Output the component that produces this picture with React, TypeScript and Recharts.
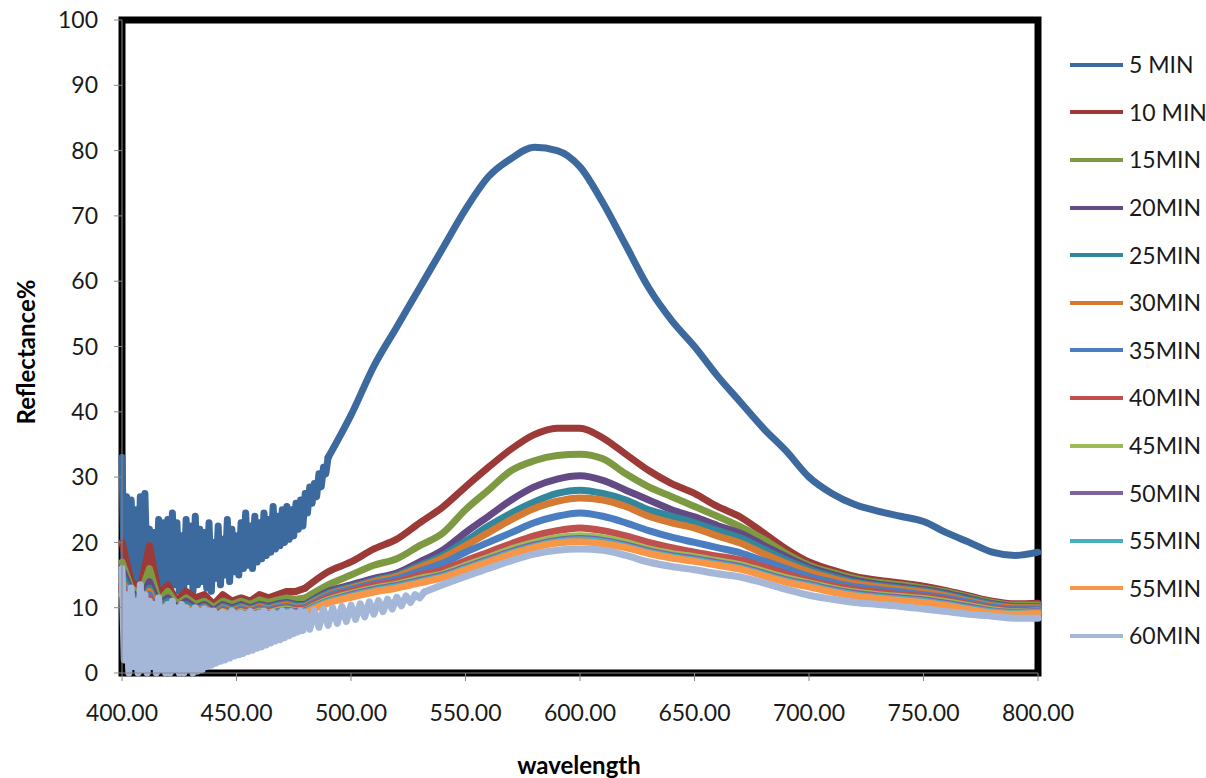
import React from 'react';
import { LineChart, Line, XAxis, YAxis, ReferenceArea, Legend } from 'recharts';

// wavelength grids
const wl1 = [400, 401, 402, 403, 404, 405, 406, 407, 408, 409, 410, 411, 412, 413, 414, 415, 416, 417, 418, 419,
  420, 421, 422, 423, 424, 425, 426, 427, 428, 429, 430, 431, 432, 433, 434, 435, 436, 437, 438, 439,
  440, 441, 442, 443, 444, 445, 446, 447, 448, 449, 450, 451, 452, 453, 454, 455, 456, 457, 458, 459,
  460, 461, 462, 463, 464, 465, 466, 467, 468, 469, 470, 471, 472, 473, 474, 475, 476, 477, 478, 479,
  480, 481, 482, 483, 484, 485, 486, 487, 488, 489];
const wl4 = [400, 404, 408, 412, 416, 420, 424, 428, 432, 436, 440, 444, 448, 452, 456, 460, 464, 468, 472, 476];
const wlSmooth = [480, 490, 500, 510, 520, 530, 540, 550, 560, 570, 580, 590, 600, 610, 620, 630, 640, 650, 660,
  670, 680, 690, 700, 710, 720, 730, 740, 750, 760, 770, 780, 790, 800];
const wl60Mid = [480, 482, 484, 486, 488, 490, 492, 494, 496, 498, 500, 502, 504, 506, 508, 510, 512, 514, 516,
  518, 520, 522, 524, 526, 528, 530, 532];
const wl60Tail = [540, 550, 560, 570, 580, 590, 600, 610, 620, 630, 640, 650, 660, 670, 680, 690, 700, 710, 720,
  730, 740, 750, 760, 770, 780, 790, 800];

const xTicks = [400, 450, 500, 550, 600, 650, 700, 750, 800];
const yTicks = [0, 10, 20, 30, 40, 50, 60, 70, 80, 90, 100];

// 5 MIN (400-489 at 1 nm, then 490-800 at 10 nm)
const min5Noise = [33, 14, 27, 13, 26.5, 14, 25, 12.5, 27, 13, 27.5, 14.5, 22, 12, 21.5, 13, 23.5, 12.5, 23, 14,
  23.5, 13, 24.5, 13.5, 23, 12.5, 21, 13, 23.5, 14, 22.5, 12.5, 24, 13.5, 22, 14, 21.5, 13, 23, 12.5,
  20, 14.5, 22.5, 13.5, 20.5, 15, 23.5, 14, 22, 15.5, 21, 15, 23, 16, 24.5, 16.5, 22.5, 16, 24, 17,
  23, 17.5, 24.5, 18, 23.5, 18.5, 25.5, 19, 24, 19.5, 25, 20, 25.5, 20.5, 25, 21, 26, 22, 26.5, 22.5,
  27.5, 24.5, 28.5, 26, 29, 27, 30.5, 28.5, 31.5, 30.5];
const min5 = [33, 39.5, 47, 53, 59, 65, 71, 76, 78.8, 80.5, 80, 77.5, 72, 65.5, 59, 54, 50, 45.5, 41.5, 37.5,
  34, 30, 27.5, 25.8, 24.8, 24, 23.2, 21.5, 20, 18.5, 18, 18.5];

// 10 MIN
const min10Noise = [20, 14, 13, 19.5, 12, 13.5, 11, 12.5, 11.5, 12, 10.5, 12, 11, 11.5, 11, 12, 11.5, 12, 12.5, 12.5];
const min10 = [13, 15.5, 17, 19, 20.5, 23, 25.4, 28.5, 31.5, 34.3, 36.5, 37.5, 37.5, 36, 33.5, 31, 29, 27.5, 25.5,
  23.9, 21.5, 19, 17, 15.8, 14.8, 14.2, 13.8, 13.3, 12.6, 11.8, 11, 10.6, 10.7];

// 15MIN
const min15Noise = [17, 13, 12, 16, 11, 12.5, 10.5, 11.5, 10.5, 11, 10, 11, 10.5, 11, 10.5, 11.2, 10.8, 11.2, 11.5, 11.3];
const min15 = [11.5, 13.5, 15, 16.5, 17.5, 19.5, 21.4, 25, 28, 31, 32.5, 33.3, 33.5, 32.8, 30.5, 28.5, 27, 25.5, 24,
  22.4, 20.5, 18.3, 16.5, 15.4, 14.5, 13.9, 13.5, 13, 12.4, 11.6, 10.8, 10.4, 10.4];

// 20MIN
const min20Noise = [16, 12.5, 11, 14, 10.5, 11.5, 10, 11, 10, 10.5, 9.5, 10.5, 10, 10.5, 10, 10.5, 10.2, 10.6, 10.8, 10.5];
const min20 = [10.5, 12.5, 13.5, 14.5, 15.3, 17, 18.8, 21.5, 24, 26.5, 28.5, 29.7, 30.2, 29.5, 28, 26.5, 25, 23.9,
  22.6, 21.4, 19.6, 17.8, 16.2, 15.1, 14.2, 13.6, 13.2, 12.8, 12.2, 11.4, 10.6, 10.2, 10.2];

// 25MIN
const min25Noise = [15, 12, 10.5, 13, 10, 11, 9.5, 10.5, 9.7, 10.2, 9.2, 10.2, 9.7, 10.2, 9.8, 10.3, 10, 10.4, 10.6, 10.3];
const min25 = [10.3, 12.2, 13.2, 14.2, 15, 16.5, 18, 20.2, 22.5, 24.5, 26.2, 27.5, 28, 27.5, 26.5, 25, 24, 23, 21.8,
  20.7, 19, 17.3, 15.9, 14.8, 13.9, 13.4, 13, 12.6, 12, 11.2, 10.5, 10.1, 10.1];

// 30MIN
const min30Noise = [14, 11.5, 10, 12.5, 9.5, 10.5, 9, 10, 9.5, 10, 9, 10, 9.5, 10, 9.6, 10.1, 9.8, 10.2, 10.4, 10.1];
const min30 = [10.2, 12, 13, 14, 14.8, 16.2, 17.6, 19.5, 21.5, 23.5, 25.2, 26.3, 26.8, 26.5, 25.5, 24, 23, 22.2, 21,
  19.9, 18.3, 16.8, 15.5, 14.5, 13.7, 13.2, 12.8, 12.4, 11.8, 11, 10.3, 10, 10];

// 35MIN
const min35Noise = [13.5, 11, 9.5, 12, 9, 10, 8.8, 9.8, 9.2, 9.8, 8.8, 9.8, 9.3, 9.8, 9.4, 9.9, 9.6, 10, 10.2, 9.9];
const min35 = [10, 11.8, 12.8, 13.7, 14.4, 15.6, 16.8, 18.5, 20, 21.5, 23, 24, 24.5, 24, 23, 21.8, 20.8, 20, 19.2,
  18.4, 17.2, 16, 14.8, 13.9, 13.2, 12.8, 12.4, 12, 11.5, 10.8, 10.1, 9.8, 9.8];

// 40MIN
const min40Noise = [13, 10.5, 9.2, 11.5, 8.8, 9.8, 8.5, 9.5, 9, 9.5, 8.6, 9.6, 9.1, 9.6, 9.2, 9.7, 9.4, 9.8, 10, 9.7];
const min40 = [9.8, 11.5, 12.5, 13.4, 14, 15, 15.8, 17.2, 18.5, 19.8, 21, 21.8, 22.2, 21.8, 21, 20, 19.2, 18.5, 17.9,
  17.3, 16.3, 15.2, 14.2, 13.4, 12.8, 12.4, 12, 11.7, 11.2, 10.5, 9.9, 9.6, 9.6];

// 45MIN
const min45Noise = [12.5, 10, 9, 11, 8.5, 9.5, 8.3, 9.3, 8.8, 9.3, 8.4, 9.4, 8.9, 9.4, 9, 9.5, 9.2, 9.6, 9.8, 9.5];
const min45 = [9.6, 11.2, 12.2, 13, 13.6, 14.5, 15.2, 16.5, 17.7, 19, 20, 20.7, 21, 20.7, 20, 19, 18.3, 17.8, 17.2,
  16.6, 15.6, 14.6, 13.8, 13, 12.4, 12, 11.7, 11.4, 10.9, 10.3, 9.7, 9.4, 9.5];

// 50MIN
const min50Noise = [12.5, 9.8, 8.8, 11, 8.3, 9.3, 8.1, 9.1, 8.6, 9.1, 8.2, 9.2, 8.7, 9.2, 8.8, 9.3, 9, 9.4, 9.6, 9.4];
const min50 = [9.5, 11, 12, 12.8, 13.4, 14.2, 15, 16.2, 17.4, 18.6, 19.6, 20.3, 20.6, 20.3, 19.6, 18.7, 18, 17.5,
  16.9, 16.3, 15.3, 14.3, 13.6, 12.8, 12.2, 11.8, 11.5, 11.2, 10.7, 10.1, 9.5, 9.3, 9.4];

// 55MIN (cyan)
const min55aNoise = [12, 9.5, 8.5, 10.5, 8, 9, 7.8, 8.9, 8.4, 8.9, 8, 9, 8.5, 9, 8.6, 9.1, 8.8, 9.2, 9.4, 9.2];
const min55a = [9.4, 10.9, 11.8, 12.6, 13.2, 14, 14.8, 16, 17.2, 18.4, 19.4, 20.1, 20.4, 20.1, 19.4, 18.5, 17.8,
  17.3, 16.7, 16.1, 15.1, 14.1, 13.4, 12.6, 12, 11.6, 11.3, 11, 10.5, 9.9, 9.4, 9.2, 9.3];

// 55MIN (orange)
const min55bNoise = [12, 9, 8, 10, 7.2, 8.5, 7, 8.5, 7.5, 8.5, 7.5, 8.6, 8, 8.7, 8.2, 8.8, 8.5, 8.9, 9.1, 9];
const min55b = [9.2, 10.7, 11.6, 12.4, 13, 13.8, 14.6, 15.8, 17, 18.2, 19.2, 19.9, 20.1, 19.8, 19.2, 18.3, 17.6,
  17.1, 16.5, 15.9, 14.9, 13.9, 13.2, 12.4, 11.8, 11.4, 11.1, 10.8, 10.3, 9.7, 9.2, 9, 9.1];

// 60MIN (400-479 at 1 nm, 480-532 at 2 nm, then 10 nm)
const min60Noise = [16, 2, 12, 0, 13, 1, 11, 0, 13.5, 0.5, 12, 0, 11, 1, 10.5, 0, 11.5, 0.5, 10, 0,
  10.5, 0, 11, 0.5, 10, 0, 10.5, 0, 10, 0.5, 9.5, 0, 10, 0.3, 9.5, 0.5, 9.8, 1, 9.5, 1.2,
  9.5, 1.5, 9, 1.8, 9.3, 2, 9, 2.3, 9.5, 2.6, 9, 2.8, 9.2, 3, 9, 3.3, 9.4, 3.5, 9, 3.8,
  9.2, 4, 9.5, 4.3, 9, 4.6, 9.3, 4.9, 9, 5.1, 9.5, 5.4, 9.2, 5.7, 9.4, 6, 9.1, 6.3, 9.5, 6.5];
const min60Mid = [9.3, 6.7, 9.6, 7, 9.8, 7.3, 10, 7.6, 10.2, 7.9, 10.4, 8.2, 10.6, 8.6, 10.9, 9, 11.1, 9.4, 11.3,
  9.8, 11.6, 10.3, 11.8, 10.8, 12, 11.5, 12.4];
const min60 = [13.5, 14.8, 16, 17.2, 18.2, 18.8, 19, 18.8, 18, 17, 16.3, 15.8, 15.2, 14.7, 13.8, 12.8, 11.9, 11.3,
  10.8, 10.5, 10.2, 9.8, 9.4, 9, 8.7, 8.4, 8.4];

const seriesNames = ['5 MIN', '10 MIN', '15MIN', '20MIN', '25MIN', '30MIN', '35MIN', '40MIN', '45MIN', '50MIN',
  '55MIN', '55MIN', '60MIN'];
const seriesColors = ['#3D6A9E', '#9C3A37', '#7D9A43', '#634A84', '#33879D', '#D47A32', '#4A7EC0', '#C0504D',
  '#9BBB59', '#7E62A3', '#4BACC6', '#F79646', '#A5B7D8'];

type Pt = { x: number; y: number };
const zip = (xs: number[], ys: number[]): Pt[] => ys.map((y, i) => ({ x: xs[i], y }));

// each series: noisy part (drawn straight) + smooth part (drawn as a curve); they share the joining point
const build = (noise: Pt[], smooth: Pt[]) => ({ noise: [...noise, smooth[0]], smooth });

const middle = [
  [min10Noise, min10], [min15Noise, min15], [min20Noise, min20], [min25Noise, min25], [min30Noise, min30],
  [min35Noise, min35], [min40Noise, min40], [min45Noise, min45], [min50Noise, min50], [min55aNoise, min55a],
  [min55bNoise, min55b],
];

const seriesParts = [
  build(zip(wl1, min5Noise), zip(wlSmooth.slice(1), min5)),
  ...middle.map(([n, s]) => {
    const sm = zip(wlSmooth, s);
    return { noise: [...zip(wl4, n), sm[0]], smooth: sm };
  }),
  build([...zip(wl1, min60Noise), ...zip(wl60Mid, min60Mid)], [
    { x: 532, y: 12.4 },
    ...zip(wl60Tail, min60),
  ]),
];

const FONT = 'Lato, "Open Sans", sans-serif';

const renderLegend = () => (
  <div style={{ width: 146 }}>
    {seriesNames.map((n, i) => (
      <div key={i} style={{ display: 'flex', alignItems: 'center', height: 47.6 }}>
        <div style={{ width: 53, height: 4, background: seriesColors[i], marginRight: 6 }} />
        <span style={{ fontFamily: FONT, fontSize: 23, color: '#1a1a1a', lineHeight: 1 }}>{n}</span>
      </div>
    ))}
  </div>
);

export default function App() {
  const lines: React.ReactNode[] = [];
  seriesParts.forEach((p, i) => {
    lines.push(
      <Line
        key={`n${i}`}
        data={p.noise}
        dataKey="y"
        name={seriesNames[i]}
        type="linear"
        stroke={seriesColors[i]}
        strokeWidth={7}
        strokeLinejoin="round"
        strokeLinecap="round"
        dot={false}
        activeDot={false}
        legendType="none"
        isAnimationActive={false}
      />
    );
    lines.push(
      <Line
        key={`s${i}`}
        data={p.smooth}
        dataKey="y"
        name={seriesNames[i]}
        type="monotone"
        stroke={seriesColors[i]}
        strokeWidth={7}
        strokeLinejoin="round"
        strokeLinecap="round"
        dot={false}
        activeDot={false}
        isAnimationActive={false}
      />
    );
  });

  return (
    <div style={{ position: 'absolute', left: 0, top: 0, width: 1206, height: 778, background: '#fff', overflow: 'hidden' }}>
      <LineChart width={1206} height={778} margin={{ top: 20, right: 168, bottom: 0, left: 0 }}>
        <XAxis
          type="number"
          dataKey="x"
          domain={[400, 800]}
          ticks={xTicks}
          tickFormatter={(v: number) => v.toFixed(2)}
          height={105}
          tickSize={8}
          tickMargin={24}
          axisLine={{ stroke: '#888' }}
          tickLine={{ stroke: '#888' }}
          tick={{ fontFamily: FONT, fontSize: 23, fill: '#1a1a1a' }}
          label={{
            content: () => (
              <text x={579} y={774} textAnchor="middle" fontFamily={FONT} fontWeight={700} fontSize={24} fill="#000">
                wavelength
              </text>
            ),
          }}
        />
        <YAxis
          type="number"
          domain={[0, 100]}
          ticks={yTicks}
          width={122}
          tickSize={8}
          tickMargin={16}
          axisLine={{ stroke: '#888' }}
          tickLine={{ stroke: '#888' }}
          tick={{ fontFamily: FONT, fontSize: 23, fill: '#1a1a1a' }}
          label={{
            content: () => (
              <text x={25} y={352} transform="rotate(-90, 25, 352)" textAnchor="middle" dominantBaseline="central"
                fontFamily={FONT} fontWeight={700} fontSize={24} fill="#000">
                Reflectance%
              </text>
            ),
          }}
        />
        {lines}
        <ReferenceArea x1={400} x2={800} y1={0} y2={100} fill="none" stroke="#000" strokeWidth={7} ifOverflow="visible" />
        <Legend
          layout="vertical"
          align="center"
          verticalAlign="middle"
          content={renderLegend}
          wrapperStyle={{ left: 1070, top: 41, width: 146 }}
        />
      </LineChart>
    </div>
  );
}
